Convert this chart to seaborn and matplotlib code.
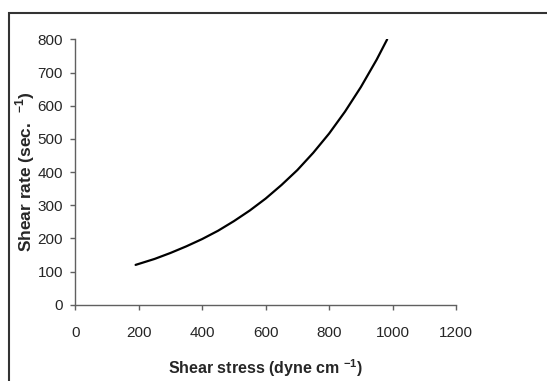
import numpy as np
import pandas as pd
import seaborn as sns
import matplotlib
matplotlib.use('Agg')
import matplotlib.pyplot as plt
from matplotlib.patches import Rectangle

# values
shear_stress = [190, 250, 300, 350, 400, 450, 500, 550, 600, 650, 700, 750, 800, 850, 900, 950, 983]
shear_rate = [120, 138, 156, 176, 198, 223, 252, 284, 320, 361, 406, 458, 516, 582, 656, 739, 800]
xticks = [0, 200, 400, 600, 800, 1000, 1200]
yticks = [0, 100, 200, 300, 400, 500, 600, 700, 800]

df = pd.DataFrame({'stress': shear_stress, 'rate': shear_rate})

sns.set_style('ticks')
plt.rcParams['font.family'] = ['Liberation Sans', 'DejaVu Sans']
plt.rcParams['mathtext.fontset'] = 'custom'
plt.rcParams['mathtext.rm'] = 'Liberation Sans'
plt.rcParams['mathtext.bf'] = 'Liberation Sans:bold'

fig = plt.figure(figsize=(5.47, 3.81), dpi=100)
ax = fig.add_axes([0.1377, 0.2003, 0.6959, 0.6963])

sns.lineplot(data=df, x='stress', y='rate', color='black', linewidth=1.6, ax=ax)

ax.set_xlim(0, 1200)
ax.set_ylim(0, 800)
ax.set_xticks(xticks)
ax.set_yticks(yticks)
ax.tick_params(axis='both', labelsize=11, length=3.3, width=1, color='#606060')
ax.tick_params(axis='x', pad=12)
ax.tick_params(axis='y', pad=5.5)
for s in ['top', 'right']:
    ax.spines[s].set_visible(False)
for s in ['left', 'bottom']:
    ax.spines[s].set_color('#606060')
    ax.spines[s].set_linewidth(1)

ax.set_xlabel(r'Shear stress (dyne cm $^{\mathbf{-1}}$)', fontsize=11.5, fontweight='bold')
ax.set_ylabel(r'Shear rate (sec.  $^{\mathbf{-1}}$)', fontsize=12.5, fontweight='bold')
ax.xaxis.set_label_coords(0.5, -0.2)
ax.yaxis.set_label_coords(-0.1, 0.5)

# outer chart-area frame (only top and left edges are visible)
fig.patches.append(Rectangle((9 / 547, -0.2), 1.2, 1.2 - 12.5 / 381, transform=fig.transFigure,
                             fill=False, edgecolor='#333333', linewidth=1.5, clip_on=False))

fig.savefig('out.png', dpi=100)
